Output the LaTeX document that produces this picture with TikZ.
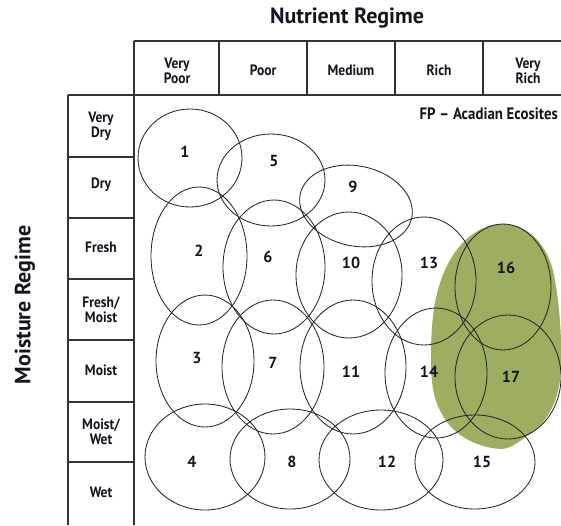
\documentclass[tikz,border=0pt]{standalone}
\usepackage{fontspec}
\setmainfont{PT Sans}
\newfontfamily\narrowfont[FakeStretch=0.9]{PT Sans}
\definecolor{blob}{RGB}{157,174,96}
\definecolor{ink}{RGB}{20,20,30}
\begin{document}
\begin{tikzpicture}[x=1pt,y=-1pt,
  gridline/.style={draw=black!80, line width=1.1pt},
  ell/.style={draw=black!85, line width=0.85pt},
  num/.style={font=\bfseries\fontsize{16}{16}\selectfont, text=ink, inner sep=0pt},
  hdr/.style={font=\narrowfont\bfseries\fontsize{15}{15}\selectfont, align=center, text=ink, inner sep=0pt},
  ttl/.style={font=\bfseries\fontsize{22}{22}\selectfont, text=ink, inner sep=0pt}]
\useasboundingbox (0,0) rectangle (561,525);
\begin{scope}
\clip (0,0) rectangle (561,525);
% green zone
\fill[blob] (503,224) .. controls (528,224) and (548,245) .. (554,275)
  .. controls (560,305) and (563,350) .. (560,380)
  .. controls (557,405) and (545,425) .. (527,436)
  .. controls (518,443) and (510,448) .. (503,449)
  .. controls (485,449) and (460,440) .. (447,422)
  .. controls (435,405) and (431,390) .. (431,360)
  .. controls (431,320) and (434,295) .. (445,270)
  .. controls (457,243) and (478,224) .. (503,224) -- cycle;
% ellipses
\draw[ell] (190,158) ellipse [x radius=52pt, y radius=49pt];
\draw[ell] (271,180) ellipse [x radius=54pt, y radius=46pt];
\draw[ell, rotate around={-12:(356,206)}] (356,206) ellipse [x radius=57pt, y radius=40pt];
\draw[ell] (199,256) ellipse [x radius=48pt, y radius=69pt];
\draw[ell] (274,267) ellipse [x radius=51pt, y radius=67pt];
\draw[ell] (349,275) ellipse [x radius=53pt, y radius=63pt];
\draw[ell] (424,281) ellipse [x radius=52pt, y radius=64pt];
\draw[ell] (503,287) ellipse [x radius=48pt, y radius=63pt];
\draw[ell] (205,361) ellipse [x radius=49pt, y radius=66pt];
\draw[ell] (273,367) ellipse [x radius=51pt, y radius=67pt];
\draw[ell] (353,367) ellipse [x radius=53pt, y radius=67pt];
\draw[ell] (436,373) ellipse [x radius=51pt, y radius=65pt];
\draw[ell] (508,377) ellipse [x radius=53pt, y radius=62pt];
\draw[ell] (205,457) ellipse [x radius=60pt, y radius=53pt];
\draw[ell] (290,459) ellipse [x radius=60pt, y radius=50pt];
\draw[ell] (381,460) ellipse [x radius=62pt, y radius=50pt];
\draw[ell] (475,462) ellipse [x radius=60pt, y radius=47pt];
% table lines
\draw[gridline] (134,41) -- (561,41);
\draw[gridline] (68,95) -- (561,95);
\draw[gridline] (134,41) -- (134,525);
\draw[gridline] (68,95) -- (68,525);
\foreach \x in {219,307,395,483} \draw[gridline] (\x,41) -- (\x,95);
\foreach \y in {157,218,279,340,402,462} \draw[gridline] (68,\y) -- (134,\y);
\end{scope}
% numbers
\node[num] (n1) at (185,152) {1};
\node[num] (n5) at (274,161) {5};
\node[num] (n9) at (353,187) {9};
\node[num] (n2) at (199,251) {2};
\node[num] (n6) at (268,257) {6};
\node[num] (n10) at (351,263) {10};
\node[num] (n13) at (429,263) {13};
\node[num] (n16) at (506,268) {16};
\node[num] (n3) at (197,358) {3};
\node[num] (n7) at (273,363) {7};
\node[num] (n11) at (351,372) {11};
\node[num] (n14) at (429,372) {14};
\node[num] (n17) at (511,377) {17};
\node[num] (n4) at (192,462) {4};
\node[num] (n8) at (292,462) {8};
\node[num] (n12) at (387,462) {12};
\node[num] (n15) at (482,462) {15};
% titles
\node[ttl] (nutr) at (347,18) {Nutrient Regime};
\node[ttl, rotate=90] (moist) at (25,305) {Moisture Regime};
\node[font=\narrowfont\bfseries\fontsize{16.5}{16.5}\selectfont, text=ink, anchor=east, inner sep=0pt] (fp) at (558,114) {FP – Acadian Ecosites};
% column headers
\node[hdr] (c1) at (177,71) {Very\\Poor};
\node[hdr] (c2) at (263,70) {Poor};
\node[hdr] (c3) at (351,70) {Medium};
\node[hdr] (c4) at (439,70) {Rich};
\node[hdr] (c5) at (528,71) {Very\\Rich};
% row headers
\node[hdr] (r1) at (101,126) {Very\\Dry};
\node[hdr] (r2) at (101,185) {Dry};
\node[hdr] (r3) at (101,247) {Fresh};
\node[hdr] (r4) at (101,310) {Fresh/\\Moist};
\node[hdr] (r5) at (101,370) {Moist};
\node[hdr] (r6) at (101,432) {Moist/\\Wet};
\node[hdr] (r7) at (101,492) {Wet};
\end{tikzpicture}
\end{document}
